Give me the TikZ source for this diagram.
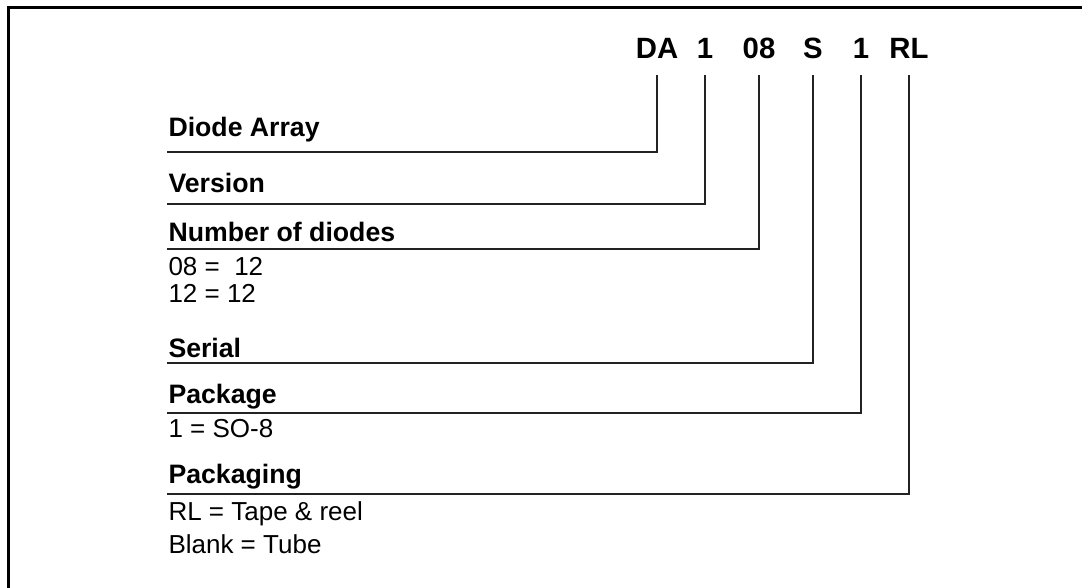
\documentclass[tikz,border=0pt]{standalone}
\usepackage{fontspec}
\setmainfont{Liberation Sans}
\usetikzlibrary{calc}
\tikzset{every picture/.style={line width=0.75pt}}
\tikzset{
	code/.style={font=\fontsize{22}{24}\selectfont\bfseries, inner sep=0pt, text depth=0pt, anchor=base},
	head/.style={font=\fontsize{20}{22}\selectfont\bfseries, inner sep=0pt, anchor=base west},
	entry/.style={font=\fontsize{19.5}{22}\selectfont, inner sep=0pt, anchor=base west},
	lead/.style={line width=1pt, draw={rgb, 255:red, 35; green, 35; blue, 35 }}}

\begin{document}
\begin{tikzpicture}[x=0.75pt,y=0.75pt,yscale=-1,xscale=1]
	\useasboundingbox (0,0) rectangle (1082,588);

	%Frame
	\draw [line width=2.25pt] (8,600) -- (8,8) -- (1095,8) ;

	% Text Node
	\node [code] (cda) at (657,59) {DA};
	% Text Node
	\node [code] (cver) at (705,59) {1};
	% Text Node
	\node [code] (cnum) at (759,59) {08};
	% Text Node
	\node [code] (cser) at (813,59) {S};
	% Text Node
	\node [code] (cpkg) at (861,59) {1};
	% Text Node
	\node [code] (cpack) at (909,59) {RL};

	% Text Node
	\node [head] (hdiode) at (168,137) {Diode Array};
	\coordinate (ldiode) at (167,152);
	% Text Node
	\node [head] (hver) at (168,193) {Version};
	\coordinate (lver) at (167,204);
	% Text Node
	\node [head] (hnum) at (168,242) {Number of diodes};
	\coordinate (lnum) at (167,249);
	\node [entry] (enum1) at (168,275) {08 = \ 12};
	\node [entry] (enum2) at (168,302) {12 = 12};
	% Text Node
	\node [head] (hser) at (168,357) {Serial};
	\coordinate (lser) at (167,363);
	% Text Node
	\node [head] (hpkg) at (168,403) {Package};
	\coordinate (lpkg) at (167,413);
	\node [entry] (epkg) at (168,437) {1 = SO-8};
	% Text Node
	\node [head] (hpack) at (168,483) {Packaging};
	\coordinate (lpack) at (167,494);
	\node [entry] (epack1) at (168,520) {RL = Tape \& reel};
	\node [entry] (epack2) at (168,553) {Blank = Tube};

	%Straight Lines
	\draw [lead] ($(cda.south)+(0,16)$) |- (ldiode) ;
	%Straight Lines
	\draw [lead] ($(cver.south)+(0,16)$) |- (lver) ;
	%Straight Lines
	\draw [lead] ($(cnum.south)+(0,16)$) |- (lnum) ;
	%Straight Lines
	\draw [lead] ($(cser.south)+(0,16)$) |- (lser) ;
	%Straight Lines
	\draw [lead] ($(cpkg.south)+(0,16)$) |- (lpkg) ;
	%Straight Lines
	\draw [lead] ($(cpack.south)+(0,16)$) |- (lpack) ;

\end{tikzpicture}
\end{document}
